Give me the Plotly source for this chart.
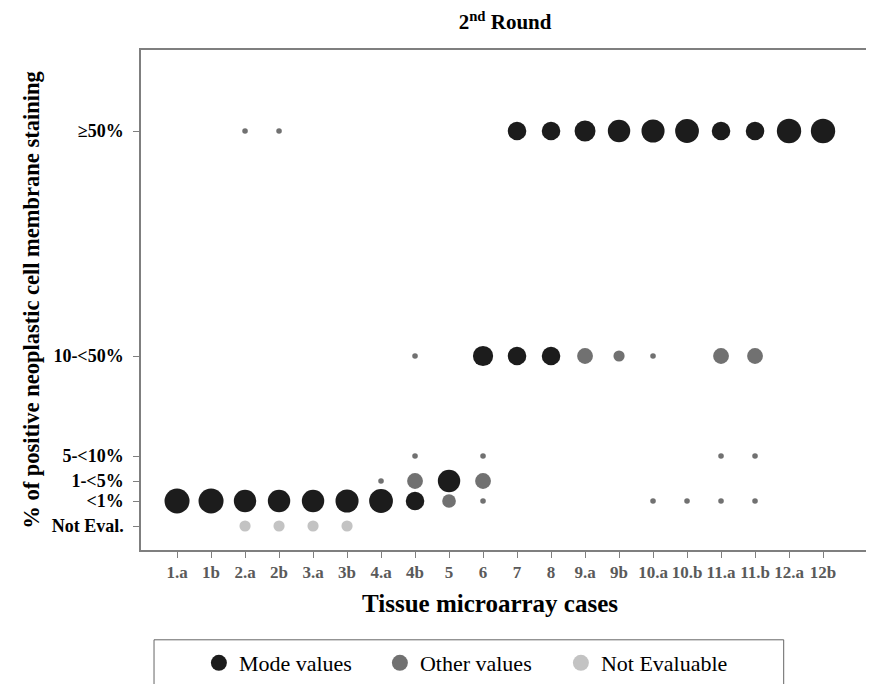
import plotly.graph_objects as go

# ---- data ----
cases = ["1.a", "1b", "2.a", "2b", "3.a", "3b", "4.a", "4b", "5", "6",
         "7", "8", "9.a", "9b", "10.a", "10.b", "11.a", "11.b", "12.a", "12b"]
levels = ["Not Eval.", "<1%", "1-<5%", "5-<10%", "10-<50%", "≥50%"]
level_values = [-5, 0, 4, 9, 29, 74]

mode_cases = ["1.a", "1b", "2.a", "2b", "3.a", "3b", "4.a", "4b", "5", "6",
              "7", "7", "8", "8", "9.a", "9b", "10.a", "10.b", "11.a", "11.b", "12.a", "12b"]
mode_levels = ["<1%", "<1%", "<1%", "<1%", "<1%", "<1%", "<1%", "<1%", "1-<5%", "10-<50%",
               "≥50%", "10-<50%", "≥50%", "10-<50%", "≥50%", "≥50%", "≥50%", "≥50%", "≥50%", "≥50%", "≥50%", "≥50%"]
mode_counts = [20, 20, 16, 16, 16, 17, 18, 11, 16, 13,
               11, 11, 11, 11, 14, 16, 17, 18, 11, 11, 19, 19]

other_cases = ["2.a", "2b", "4.a", "4b", "4b", "4b", "5", "6", "6", "6",
               "9.a", "9b", "10.a", "10.a", "10.b", "11.a", "11.a", "11.a", "11.b", "11.b", "11.b"]
other_levels = ["≥50%", "≥50%", "1-<5%", "1-<5%", "5-<10%", "10-<50%", "<1%", "1-<5%", "5-<10%", "<1%",
                "10-<50%", "10-<50%", "10-<50%", "<1%", "<1%", "10-<50%", "5-<10%", "<1%", "10-<50%", "5-<10%", "<1%"]
other_counts = [1, 1, 1, 8, 1, 1, 6, 8, 1, 1,
                8, 4, 1, 1, 1, 8, 1, 1, 8, 1, 1]

ne_cases = ["2.a", "2b", "3.a", "3b"]
ne_levels = ["Not Eval.", "Not Eval.", "Not Eval.", "Not Eval."]
ne_counts = [4, 4, 4, 4]

series = [
    ("Mode values", mode_cases, mode_levels, mode_counts, "#1c1c1c"),
    ("Other values", other_cases, other_levels, other_counts, "#717171"),
    ("Not Evaluable", ne_cases, ne_levels, ne_counts, "#c3c3c3"),
]

level_map = dict(zip(levels, level_values))
SERIF = "Liberation Serif"

fig = go.Figure()
for name, xs, ys, ns, col in series:
    fig.add_trace(go.Scatter(
        x=xs, y=[level_map[v] for v in ys], mode="markers", name=name,
        legendgroup=name, showlegend=False,
        marker=dict(size=ns, sizemode="area", sizeref=0.0638, color=col,
                    opacity=1, line=dict(width=0)),
        hovertemplate="%{x}: " + name + "<extra></extra>",
    ))
    # legend proxy (same style, no points)
    fig.add_trace(go.Scatter(
        x=[None], y=[None], mode="markers", name=name, legendgroup=name,
        marker=dict(size=16, color=col, opacity=1, line=dict(width=0)),
    ))

# page has an 8px body margin, so the figure is 866x676
fig.update_layout(
    width=866, height=676,
    margin=dict(l=133, r=1, t=42, b=133),
    paper_bgcolor="white", plot_bgcolor="white",
    font=dict(family=SERIF, color="black"),
    title=dict(text="2<sup>nd</sup> Round", x=0.574, xanchor="center",
               y=1 - 14 / 676, yanchor="middle",
               font=dict(family=SERIF, size=21, weight="bold", color="black")),
    showlegend=True,
    legend=dict(orientation="h", x=0.45, xanchor="center", y=-0.2236, yanchor="middle",
                font=dict(family=SERIF, size=22, color="black"),
                entrywidth=136, bgcolor="rgba(0,0,0,0)", borderwidth=0),
)

fig.update_xaxes(
    type="category", categoryorder="array", categoryarray=cases,
    range=[-1.06, 20.47],
    showline=True, mirror=True, linecolor="#7f7f7f", linewidth=1.5,
    ticks="outside", ticklen=6, tickcolor="#7f7f7f", tickwidth=1,
    showgrid=False, zeroline=False, automargin=False,
    tickfont=dict(family=SERIF, size=17, weight="bold", color="#5a5a5a"),
)
fig.update_yaxes(
    range=[-9.8, 90.2],
    tickmode="array", tickvals=level_values, ticktext=levels,
    showline=True, mirror=True, linecolor="#7f7f7f", linewidth=1.5,
    ticks="outside", ticklen=6, tickcolor="#7f7f7f", tickwidth=1,
    showgrid=False, zeroline=False, ticklabelstandoff=6, automargin=False,
    tickfont=dict(family=SERIF, size=18, weight="bold", color="black"),
    title=dict(text="% of positive neoplastic cell membrane staining", standoff=6,
               font=dict(family=SERIF, size=22.5, weight="bold", color="black")),
)

# x-axis title
fig.add_annotation(text="Tissue microarray cases", xref="paper", yref="paper",
                   x=0.477, y=-0.106, xanchor="center", yanchor="middle", showarrow=False,
                   font=dict(family=SERIF, size=25, weight="bold", color="black"))

# legend frame
fig.add_shape(type="rect", xref="paper", yref="paper",
              x0=0.0178, x1=0.878, y0=-0.1796, y1=-0.32,
              line=dict(color="#666666", width=1), fillcolor="rgba(0,0,0,0)")

fig.write_html("out.html")
